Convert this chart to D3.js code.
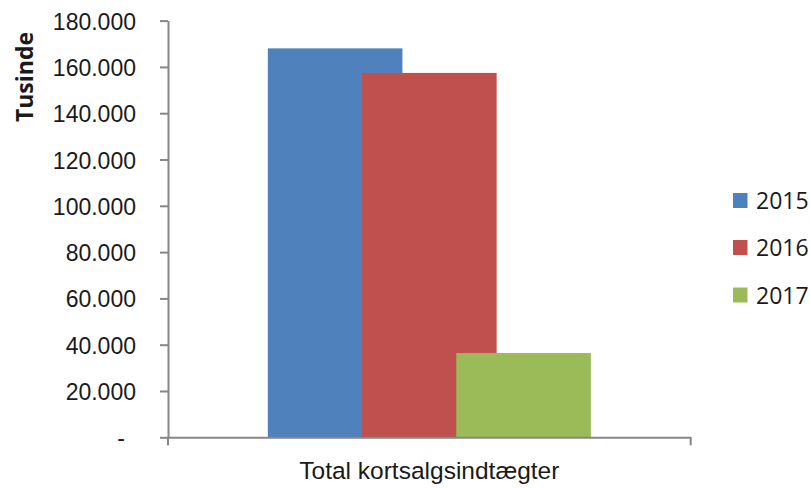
<!DOCTYPE html>
<html>
<head>
<meta charset="utf-8">
<script src="https://cdn.jsdelivr.net/npm/d3@7"></script>
<style>
  html, body { margin: 0; padding: 0; background: #fff; }
  svg { display: block; font-family: "Open Sans", sans-serif; }
</style>
</head>
<body>
<svg id="chart" width="810" height="488"></svg>
<script>
const categories = ["Total kortsalgsindtægter"];
const seriesNames = ["2015", "2016", "2017"];
const values2015 = [168000];
const values2016 = [157400];
const values2017 = [36400];
const seriesValues = [values2015, values2016, values2017];
const seriesColors = ["#4F81BD", "#C0504D", "#9BBB59"];
const yTicks = [0, 20000, 40000, 60000, 80000, 100000, 120000, 140000, 160000, 180000];
const yTitle = "Tusinde";

const svg = d3.select("#chart");
const plotLeft = 168, plotRight = 690.7, plotTop = 20.6, plotBottom = 437.3;
const axisColor = "#868686";
const textColor = "#1a1a1a";

const y = d3.scaleLinear().domain([0, 180000]).range([plotBottom, plotTop]);
const x = d3.scaleBand().domain(categories).range([plotLeft, plotRight])
  .paddingInner(0).paddingOuter(0.309);

const overlap = 0.3;
const nS = seriesNames.length;
const barW = x.bandwidth() / (1 + (nS - 1) * (1 - overlap));
const stepS = barW * (1 - overlap);

// bars
seriesNames.forEach((name, si) => {
  svg.append("g").selectAll("rect")
    .data(categories.map((c, ci) => ({ c, v: seriesValues[si][ci] })))
    .join("rect")
    .attr("x", d => x(d.c) + si * stepS)
    .attr("width", barW)
    .attr("y", d => y(d.v))
    .attr("height", d => y(0) - y(d.v))
    .attr("fill", seriesColors[si]);
});

// y axis
const fmt = v => v === 0 ? "-" : d3.format(",")(v).replace(/,/g, ".");
const yAxis = d3.axisLeft(y).tickValues(yTicks).tickSize(8).tickSizeOuter(0).tickPadding(25).tickFormat(fmt);
const gy = svg.append("g").attr("transform", `translate(${plotLeft},0)`).call(yAxis);
gy.select(".domain").attr("stroke", axisColor).attr("stroke-width", 2);
gy.selectAll(".tick line").attr("stroke", axisColor).attr("stroke-width", 2);
gy.selectAll(".tick text")
  .attr("fill", textColor)
  .style("font-size", "23px")
  .attr("dy", "0.37em")
  .attr("x", d => d === 0 ? -43 : -32);

// x axis
const xAxis = d3.axisBottom(x).tickSize(0).tickFormat("");
const gx = svg.append("g").attr("transform", `translate(0,${plotBottom})`).call(xAxis);
gx.select(".domain").attr("stroke", axisColor).attr("stroke-width", 2);
gx.selectAll(".tick").remove();
[plotLeft, plotRight].forEach(px => {
  gx.append("line").attr("x1", px).attr("x2", px).attr("y1", 0).attr("y2", 8)
    .attr("stroke", axisColor).attr("stroke-width", 2);
});
gx.append("text")
  .attr("x", x(categories[0]) + x.bandwidth() / 2)
  .attr("y", 42)
  .attr("text-anchor", "middle")
  .attr("fill", textColor)
  .style("font-size", "24.5px")
  .text(categories[0]);

// y title
svg.append("text")
  .attr("transform", "translate(32.5,77) rotate(-90)")
  .attr("text-anchor", "middle")
  .attr("fill", textColor)
  .style("font-size", "23px")
  .style("font-weight", "bold")
  .text(yTitle);

// legend
const legendY = [200.5, 247.5, 295];
const lg = svg.append("g");
seriesNames.forEach((name, i) => {
  lg.append("rect").attr("x", 733).attr("y", legendY[i] - 7.5).attr("width", 14.5).attr("height", 15)
    .attr("fill", seriesColors[i]);
  lg.append("text").attr("x", 756).attr("y", legendY[i]).attr("dy", "0.37em")
    .attr("fill", textColor).style("font-size", "23px").text(name);
});
</script>
</body>
</html>
